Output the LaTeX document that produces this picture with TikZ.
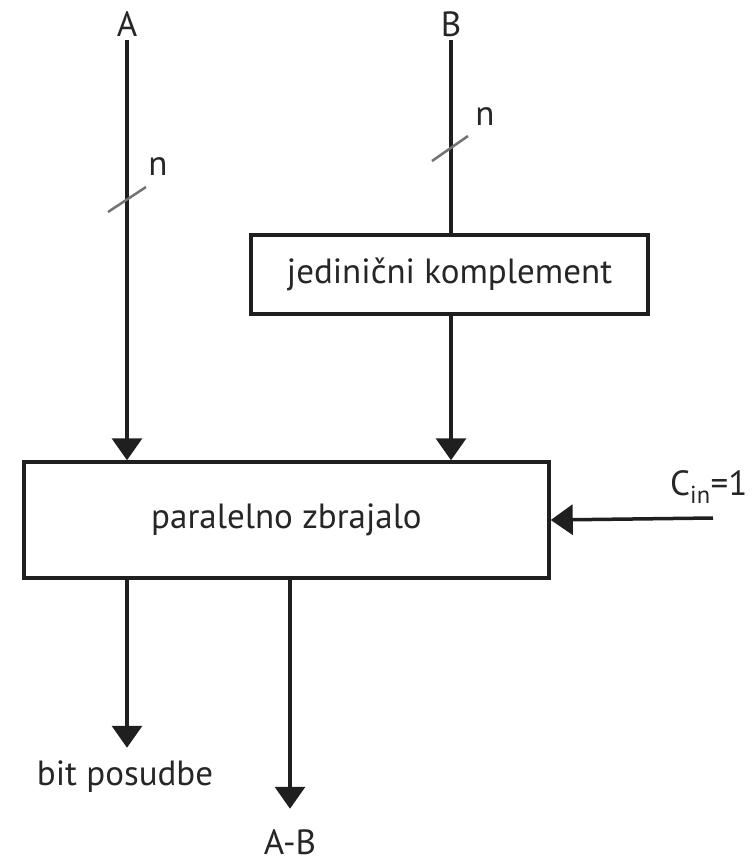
\documentclass[tikz,border=0pt]{standalone}
\usepackage{fontspec}
\setmainfont{PT Sans}
\usetikzlibrary{arrows.meta}
\begin{document}
\begin{tikzpicture}[x=1pt,y=-1pt,
  every node/.style={font=\fontsize{35}{38}\selectfont, text=black!85},
  blk/.style={draw=black!88, line width=3.5pt, inner sep=0pt},
  wire/.style={draw=black!88, line width=3.5pt},
  arr/.style={wire, -{Triangle[width=30pt,length=22pt]}},
  bus/.style={draw=black!55, line width=2.5pt}]
\useasboundingbox (0,0) rectangle (754,863);

% blocks
\node[blk, minimum width=397pt, minimum height=79pt] (comp) at (449.5,274.5) {jedinični komplement};
\node[blk, minimum width=525pt, minimum height=116pt] (add) at (286.5,520) {paralelno zbrajalo};

% inputs and outputs
\node (A) at (127,24) {A};
\node (B) at (451,24) {B};
\node[anchor=west, inner sep=0pt] (cinl) at (670,487) {C\textsubscript{in}=1};
\coordinate (cin) at (713,518);
\node (borrow) at (125,777) {bit posudbe};
\node[inner sep=1pt] (diff) at (290,842) {A-B};

% connectors
\draw[arr] (A.south) -- (A.south |- add.north);
\draw[wire] (B.south) -- (B.south |- comp.north);
\draw[arr] (comp.south -| B.south) -- (B.south |- add.north);
\draw[arr] (cin) -- (add.east);
\draw[arr] (add.south -| A.south) -- ++(0,168);
\draw[arr] (add.south -| diff.north) -- ++(0,229);

% n-bit bus marks
\draw[bus] (108,212) -- (146,187);
\node at (158,167) {n};
\draw[bus] (432,161) -- (468,136);
\node at (485,117) {n};
\end{tikzpicture}
\end{document}
